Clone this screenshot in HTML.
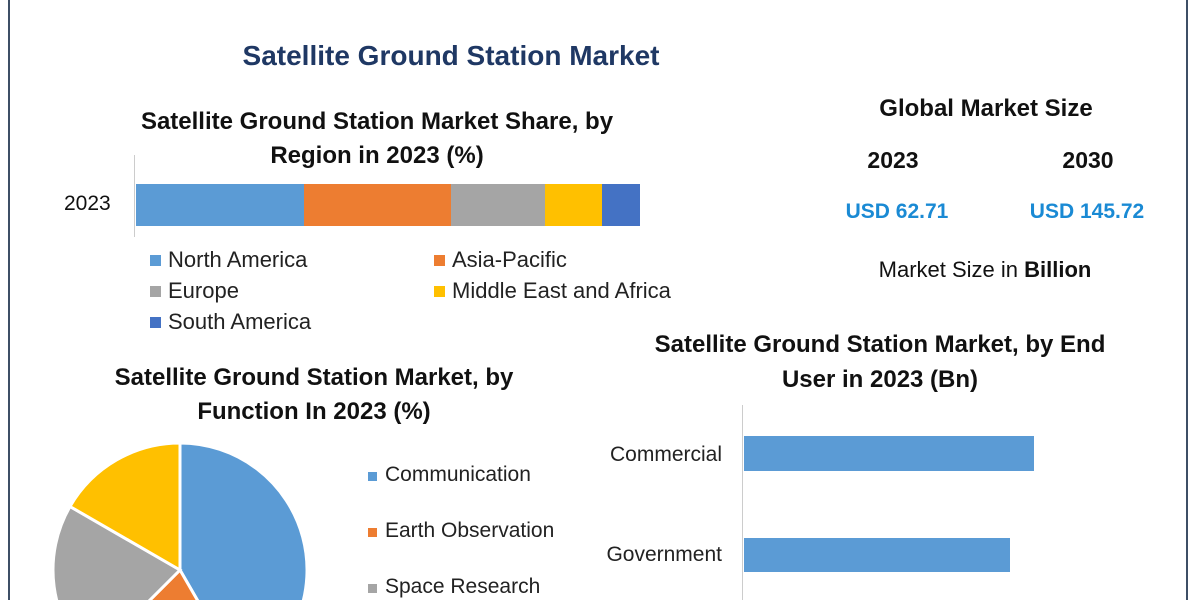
<!DOCTYPE html>
<html><head><meta charset="utf-8"><style>
html,body{margin:0;width:1200px;height:600px;overflow:hidden}
body{background:#fff;font-family:"Liberation Sans",sans-serif;position:relative}
.t{position:absolute;white-space:nowrap;transform:translateX(-50%);color:#111}
.b{font-weight:bold}
.l{position:absolute;white-space:nowrap;font-size:22px;color:#222}
.sq{position:absolute;width:11px;height:11px}
</style></head><body>
<div style="position:absolute;left:8px;top:0;width:2px;height:600px;background:#3d4f66"></div>
<div style="position:absolute;left:1186px;top:0;width:2px;height:600px;background:#3d4f66"></div>
<div class="t b" style="left:451px;top:40px;font-size:28px;color:#1f3864">Satellite Ground Station Market</div>
<div class="t b" style="left:377px;top:108px;font-size:24px">Satellite Ground Station Market Share, by</div>
<div class="t b" style="left:377px;top:142px;font-size:24px">Region in 2023 (%)</div>
<div class="l" style="left:64px;top:192px;color:#111;font-size:21px">2023</div>
<div style="position:absolute;left:134px;top:155px;width:1px;height:82px;background:#ccc"></div>
<div style="position:absolute;left:136px;top:184px;height:42px;width:168px;background:#5b9bd5"></div>
<div style="position:absolute;left:304px;top:184px;height:42px;width:147px;background:#ed7d31"></div>
<div style="position:absolute;left:451px;top:184px;height:42px;width:94px;background:#a5a5a5"></div>
<div style="position:absolute;left:545px;top:184px;height:42px;width:57px;background:#ffc000"></div>
<div style="position:absolute;left:602px;top:184px;height:42px;width:38px;background:#4472c4"></div>
<div class="sq" style="left:150px;top:255px;background:#5b9bd5"></div><div class="l" style="left:168px;top:247px">North America</div>
<div class="sq" style="left:434px;top:255px;background:#ed7d31"></div><div class="l" style="left:452px;top:247px">Asia-Pacific</div>
<div class="sq" style="left:150px;top:286px;background:#a5a5a5"></div><div class="l" style="left:168px;top:278px">Europe</div>
<div class="sq" style="left:434px;top:286px;background:#ffc000"></div><div class="l" style="left:452px;top:278px">Middle East and Africa</div>
<div class="sq" style="left:150px;top:317px;background:#4472c4"></div><div class="l" style="left:168px;top:309px">South America</div>

<div class="t b" style="left:986px;top:95px;font-size:24px">Global Market Size</div>
<div class="t b" style="left:893px;top:147px;font-size:23px">2023</div>
<div class="t b" style="left:1088px;top:147px;font-size:23px">2030</div>
<div class="t b" style="left:897px;top:200px;font-size:21px;color:#1a8ad4">USD 62.71</div>
<div class="t b" style="left:1087px;top:200px;font-size:21px;color:#1a8ad4">USD 145.72</div>
<div class="t" style="left:985px;top:257px;font-size:22px">Market Size in <b>Billion</b></div>

<div class="t b" style="left:314px;top:364px;font-size:24px">Satellite Ground Station Market, by</div>
<div class="t b" style="left:314px;top:398px;font-size:24px">Function In 2023 (%)</div>
<svg style="position:absolute;left:0;top:0" width="1200" height="600">
<g stroke="#fff" stroke-width="3">
<path d="M180,570 L180,443 A127,127 0 0 1 243.5,680 Z" fill="#5b9bd5"/>
<path d="M180,570 L243.5,680 A127,127 0 0 1 90.2,659.8 Z" fill="#ed7d31"/>
<path d="M180,570 L90.2,659.8 A127,127 0 0 1 70,506.5 Z" fill="#a5a5a5"/>
<path d="M180,570 L70,506.5 A127,127 0 0 1 180,443 Z" fill="#ffc000"/>
</g></svg>
<div class="sq" style="left:368px;top:472px;width:9px;height:9px;background:#5b9bd5"></div><div class="l" style="left:385px;top:463px;font-size:21px">Communication</div>
<div class="sq" style="left:368px;top:528px;width:9px;height:9px;background:#ed7d31"></div><div class="l" style="left:385px;top:519px;font-size:21px">Earth Observation</div>
<div class="sq" style="left:368px;top:584px;width:9px;height:9px;background:#a5a5a5"></div><div class="l" style="left:385px;top:575px;font-size:21px">Space Research</div>

<div class="t b" style="left:880px;top:331px;font-size:24px">Satellite Ground Station Market, by End</div>
<div class="t b" style="left:880px;top:366px;font-size:24px">User in 2023 (Bn)</div>
<div style="position:absolute;left:742px;top:405px;width:1px;height:195px;background:#ccc"></div>
<div style="position:absolute;left:744px;top:436px;width:290px;height:35px;background:#5b9bd5"></div>
<div style="position:absolute;left:744px;top:538px;width:266px;height:34px;background:#5b9bd5"></div>
<div class="l" style="right:478px;top:443px;font-size:21px">Commercial</div>
<div class="l" style="right:478px;top:543px;font-size:21px">Government</div>
</body></html>
